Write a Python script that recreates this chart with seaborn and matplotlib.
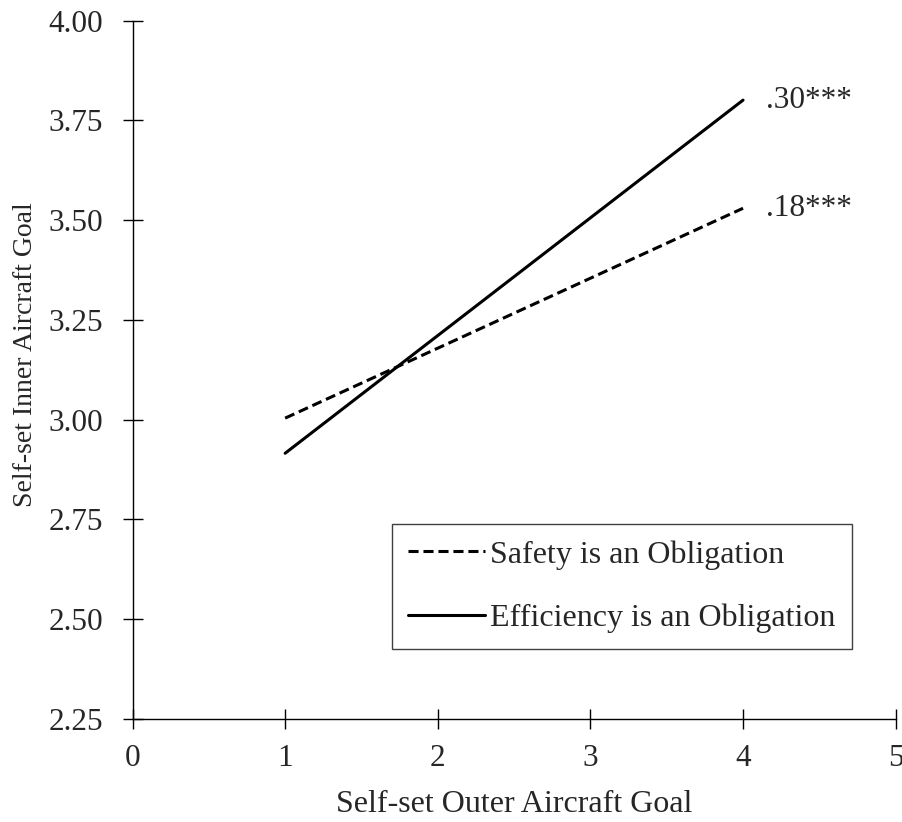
import pandas as pd
import matplotlib.pyplot as plt
import seaborn as sns

# Simple slopes at low (1) and high (4) outer aircraft goal
outer_goal = [1, 4]
safety_inner = [3.004, 3.530]
efficiency_inner = [2.916, 3.801]
slope_labels = ['.18***', '.30***']

safety = pd.DataFrame({'Outer': outer_goal, 'Inner': safety_inner})
efficiency = pd.DataFrame({'Outer': outer_goal, 'Inner': efficiency_inner})

sns.set_style('ticks')
plt.rcParams['font.family'] = ['Liberation Serif', 'DejaVu Serif']
plt.rcParams['font.size'] = 22.5

fig = plt.figure(figsize=(9.02, 8.22), dpi=100)
ax = fig.add_axes([0.1469, 0.1253, 0.8461, 0.8495])

sns.lineplot(x='Outer', y='Inner', data=safety, ax=ax, color='black',
             linewidth=2.2, linestyle=(0, (3.3, 1.6)), label='Safety is an Obligation')
sns.lineplot(x='Outer', y='Inner', data=efficiency, ax=ax, color='black',
             linewidth=2.2, label='Efficiency is an Obligation')

# slope labels next to line ends
ax.text(outer_goal[1] + 0.15, safety_inner[1], slope_labels[0], fontsize=22.5, va='center', ha='left')
ax.text(outer_goal[1] + 0.15, efficiency_inner[1], slope_labels[1], fontsize=22.5, va='center', ha='left')

ax.set_xlim(0, 5)
ax.set_ylim(2.25, 4.0)
ax.set_xticks([0, 1, 2, 3, 4, 5])
ax.set_yticks([2.25, 2.50, 2.75, 3.00, 3.25, 3.50, 3.75, 4.00])
ax.set_yticklabels([f'{v:.2f}' for v in ax.get_yticks()])
ax.tick_params(axis='both', direction='inout', length=14, width=1, color='black', labelsize=22.5)
ax.tick_params(axis='x', pad=11)
ax.tick_params(axis='y', pad=14)

sns.despine(ax=ax)
for side in ['left', 'bottom']:
    ax.spines[side].set_linewidth(1)
    ax.spines[side].set_color('black')

ax.set_xlabel('Self-set Outer Aircraft Goal', fontsize=23, labelpad=12)
ax.set_ylabel('Self-set Inner Aircraft Goal', fontsize=20)
ax.yaxis.set_label_coords(-0.124, 0.522)

leg = ax.legend(loc='upper left', bbox_to_anchor=(0.340, 0.279), borderaxespad=0,
                fontsize=23, handlelength=2.4, handletextpad=0.18, labelspacing=1.05,
                borderpad=0.5, fancybox=False, framealpha=1, edgecolor='#404040')
leg.get_frame().set_linewidth(1)

fig.savefig('out.png', dpi=100)
